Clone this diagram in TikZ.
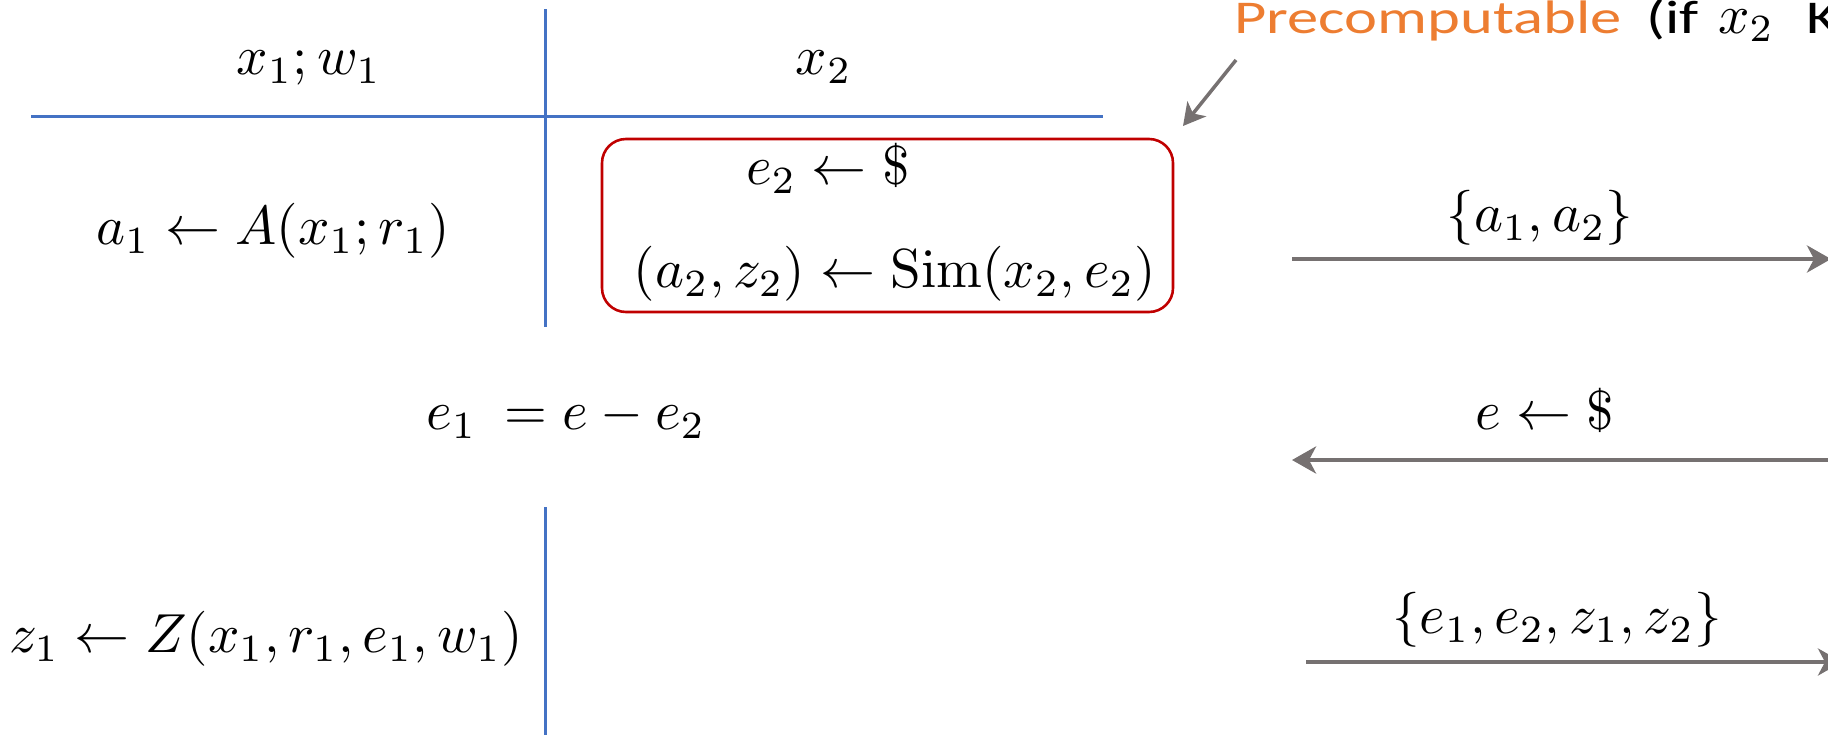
\documentclass[tikz,border=0pt]{standalone}
\usepackage[no-math]{fontspec}
\setmainfont{Carlito}
\usetikzlibrary{arrows.meta}
\definecolor{lineblue}{RGB}{68,114,196}
\definecolor{boxred}{RGB}{192,0,0}
\definecolor{arrgray}{RGB}{118,113,113}
\definecolor{precorange}{RGB}{237,125,49}
\newcommand{\bigmath}[1]{{\fontsize{10}{12}\selectfont\scalebox{5.5}{$\vphantom{(}#1$}}}
\newcommand{\widetxt}[1]{\scalebox{1.33}[1]{\fontsize{47}{56}\selectfont #1}}
\tikzset{
  mathtxt/.style={inner sep=0pt},
  notetxt/.style={inner sep=0pt, anchor=base west},
  divider/.style={draw=lineblue, line width=3pt},
  msgarrow/.style={draw=arrgray, line width=4pt, -{Stealth[length=24pt,width=27pt,inset=7pt]}},
  precbox/.style={draw=boxred, line width=2.6pt, rounded corners=24pt, inner sep=0pt}
}
\begin{document}
\begin{tikzpicture}[x=1pt,y=-1pt]
\useasboundingbox (0,0) rectangle (1828,734);
\clip (0,0) rectangle (1828,734);
% dividers
\coordinate (hl) at (31,116.7);
\coordinate (hr) at (1103,116.7);
\coordinate (vt) at (545,9);
\coordinate (vb) at (545,327);
\coordinate (vt2) at (545,507);
\coordinate (vb2) at (545,740);
\draw[divider] (hl) -- (hr);
\draw[divider] (vt) -- (vb);
\draw[divider] (vt2) -- (vb2);
% headers
\node[mathtxt] (hdrA) at (309,61) {\bigmath{x_1;w_1}};
\node[mathtxt] (hdrB) at (824,61) {\bigmath{x_2}};
% precomputable box
\node[precbox, minimum width=571pt, minimum height=173pt] (box) at (887.5,225.5) {};
\node[mathtxt] (e2) at (828,171) {\bigmath{e_2 \leftarrow \$}};
\node[mathtxt] (sim) at (895,274) {\bigmath{(a_2,z_2) \leftarrow \mathrm{Sim}(x_2,e_2)}};
% left column
\node[mathtxt] (a1) at (273,231) {\bigmath{a_1 \leftarrow A(x_1;r_1)}};
\node[mathtxt] (e1) at (566,416) {\bigmath{e_1\ = e - e_2}};
\node[mathtxt] (z1) at (266,639) {\bigmath{z_1 \leftarrow Z(x_1,r_1,e_1,w_1)}};
% messages
\node[mathtxt] (lblA) at (1540,218) {\bigmath{\{a_1,a_2\}}};
\node[mathtxt] (lblE) at (1545,416) {\bigmath{e \leftarrow \$}};
\node[mathtxt] (lblZ) at (1557,620) {\bigmath{\{e_1,e_2,z_1,z_2\}}};
\coordinate (mA1) at (1292,259);
\coordinate (mA2) at (1831,259);
\coordinate (mE1) at (1838,460);
\coordinate (mE2) at (1292,460);
\coordinate (mZ1) at (1306,662);
\coordinate (mZ2) at (1842,662);
\draw[msgarrow] (mA1) -- (mA2);
\draw[msgarrow] (mE1) -- (mE2);
\draw[msgarrow] (mZ1) -- (mZ2);
% precomputable note
\node[notetxt, text=precorange] (prec) at (1234,33) {\widetxt{Precomputable}};
\node[notetxt] (precif) at (1646,33) {\widetxt{(if}};
\node[notetxt] (precx) at (1718,33) {{\fontsize{10}{12}\selectfont\scalebox{5.5}{$x_2$}}};
\node[notetxt] (preck) at (1806,33) {\widetxt{K}};
\coordinate (pS) at (1236,60);
\coordinate (pE) at (1183,126);
\draw[draw=arrgray, line width=3.5pt, -{Stealth[length=22pt,width=24pt,inset=6pt]}] (pS) -- (pE);
\end{tikzpicture}
\end{document}
